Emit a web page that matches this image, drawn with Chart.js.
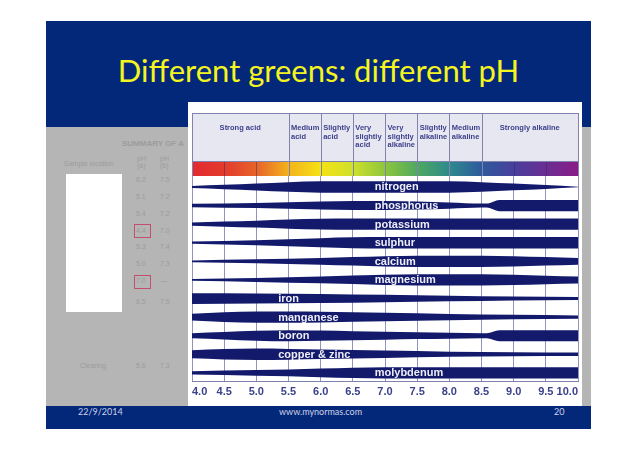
<!DOCTYPE html>
<html>
<head>
<meta charset="utf-8">
<script src="https://cdn.jsdelivr.net/npm/chart.js@4.4.0/dist/chart.umd.min.js"></script>
<style>
  html, body { margin: 0; padding: 0; background: #fff; }
  body { width: 638px; height: 451px; position: relative; overflow: hidden; font-family: 'Liberation Sans', Arial, sans-serif; }
  .abs { position: absolute; }
  #slide { left: 46px; top: 21px; width: 545px; height: 408px; background: #03287a; }
  #title { left: 46px; width: 545px; top: 52px; line-height: 36px; text-align: center; color: #f4f41e; font-family: Lato, sans-serif; font-size: 31px; white-space: nowrap; }
  #under { left: 46px; top: 127px; width: 545px; height: 279px; background: #b5b5b5; }
  #blank { left: 66px; top: 174px; width: 56px; height: 138px; background: #fff; }
  .faint { color: #9c9c9c; font-size: 7px; white-space: nowrap; }
  .redbox { border: 1px solid #c2506a; width: 15px; height: 12px; }
  #box { left: 188px; top: 102px; width: 394px; height: 304px; background: #fff; }
  .foot { top: 406px; color: #cdd2e6; font-family: Lato, sans-serif; font-size: 9px; line-height: 12px; white-space: nowrap; }
</style>
</head>
<body>
<div id="slide" class="abs"></div>
<div id="title" class="abs">Different greens: different pH</div>
<div id="under" class="abs"></div>
<div class="abs faint" style="left:122px;top:139px;font-weight:bold;font-size:8px;">SUMMARY OF A</div>
<div class="abs faint" style="left:64px;top:160px;">Sample location</div>
<div class="abs faint" style="left:137px;top:155px;">pH<br>(a)</div>
<div class="abs faint" style="left:160px;top:155px;">pH<br>(b)</div>
<div id="blank" class="abs"></div>
<div id="faintRows"></div>
<div class="abs redbox" style="left:134px;top:224px;"></div>
<div class="abs redbox" style="left:134px;top:275px;"></div>
<div class="abs faint" style="left:80px;top:362px;">Clearing</div>
<div id="box" class="abs"><canvas id="phChart" width="394" height="304"></canvas></div>
<div class="abs foot" style="left:78px;">22/9/2014</div>
<div class="abs foot" style="left:279px;">www.mynormas.com</div>
<div class="abs foot" style="left:554px;">20</div>
<script>
// pH scale and header zones
const PH_TICKS = ['4.0', '4.5', '5.0', '5.5', '6.0', '6.5', '7.0', '7.5', '8.0', '8.5', '9.0', '9.5', '10.0'];
const ZONE_NAMES = [['Strong acid'], ['Medium', 'acid'], ['Slightly', 'acid'], ['Very', 'slightly', 'acid'],
  ['Very', 'slightly', 'alkaline'], ['Slightly', 'alkaline'], ['Medium', 'alkaline'], ['Strongly alkaline']];
const ZONE_EDGES = [4.0, 5.5, 6.0, 6.5, 7.0, 7.5, 8.0, 8.5, 10.0];
const PH_COLORS = ['#e22b2f', '#e33a2c', '#e7632a', '#f3b21c', '#f6e214', '#cfe02c', '#8ec63c',
  '#4fa860', '#2e8a8c', '#2e5a9c', '#483f9c', '#6a2e94', '#8a1c86'];

const NUTRIENTS = ['nitrogen', 'phosphorus', 'potassium', 'sulphur', 'calcium', 'magnesium',
  'iron', 'manganese', 'boron', 'copper & zinc', 'molybdenum'];

// availability at pH (1 = widest band)
const nitrogen = [[4.0, 0.18], [4.5, 0.4], [5.0, 0.62], [5.5, 0.85], [6.0, 1], [8.0, 1], [8.5, 0.85], [9.0, 0.6], [9.5, 0.35], [10.0, 0.05]];
const phosphorus = [[4.0, 0.3], [5.0, 0.45], [6.0, 0.7], [6.5, 0.8], [7.0, 0.8], [7.5, 0.7], [8.0, 0.55], [8.5, 0.35], [8.58, 0.35], [8.78, 1], [10.0, 1]];
const potassium = [[4.0, 0.3], [4.5, 0.45], [5.0, 0.6], [5.5, 0.8], [6.0, 0.95], [6.5, 1], [10.0, 1]];
const sulphur = [[4.0, 0.2], [5.0, 0.45], [5.5, 0.6], [6.0, 0.8], [6.5, 0.95], [7.0, 1], [10.0, 1]];
const calcium = [[4.0, 0.15], [5.0, 0.35], [6.0, 0.6], [6.5, 0.75], [7.0, 0.9], [7.5, 1], [8.5, 1], [9.0, 0.9], [9.5, 0.75], [10.0, 0.6]];
const magnesium = [[4.0, 0.15], [5.0, 0.35], [6.0, 0.6], [7.0, 0.9], [7.5, 1], [8.5, 1], [9.0, 0.9], [9.5, 0.75], [10.0, 0.62]];
const iron = [[4.0, 0.95], [5.0, 0.9], [6.0, 0.8], [7.0, 0.65], [8.0, 0.5], [9.0, 0.35], [10.0, 0.25]];
const manganese = [[4.0, 0.6], [4.5, 0.85], [5.0, 1], [5.5, 1], [6.0, 0.95], [7.0, 0.75], [8.0, 0.55], [9.0, 0.4], [10.0, 0.28]];
const boron = [[4.0, 0.45], [4.5, 0.65], [5.0, 0.88], [5.5, 0.98], [6.0, 0.9], [6.5, 0.8], [7.0, 0.7], [7.5, 0.6], [8.0, 0.52], [8.5, 0.45], [8.58, 0.45], [8.78, 0.98], [10.0, 0.98]];
const copperZinc = [[4.0, 0.72], [4.5, 0.92], [5.0, 1], [5.5, 0.95], [6.0, 0.85], [7.0, 0.65], [8.0, 0.45], [9.0, 0.35], [10.0, 0.3]];
const molybdenum = [[4.0, 0.3], [5.0, 0.5], [5.5, 0.6], [6.0, 0.75], [6.5, 0.9], [7.0, 1], [10.0, 1]];
const BANDS = [nitrogen, phosphorus, potassium, sulphur, calcium, magnesium, iron, manganese, boron, copperZinc, molybdenum];

// faded table behind the chart
const faintA = ['6.2', '5.1', '5.4', '4.4', '5.3', '5.0', '7.0', '6.5', '5.6'];
const faintB = ['7.5', '7.2', '7.2', '7.0', '7.4', '7.3', '—', '7.5', '7.3'];
const faintY = [176, 193, 210, 227, 243, 260, 277, 298, 362];
let html = '';
faintY.forEach(function(y, i) {
    html += '<div class="abs faint" style="left:136px;top:' + y + 'px;">' + faintA[i] + '</div>';
    html += '<div class="abs faint" style="left:160px;top:' + y + 'px;">' + faintB[i] + '</div>';
});
document.getElementById('faintRows').innerHTML = html;

const BAND_COLOR = '#131a6c';
const HALF = 0.305;

const datasets = [];
BANDS.forEach(function(pts, i) {
    datasets.push({
        data: pts.map(p => ({x: p[0], y: i - p[1] * HALF})),
        borderWidth: 0, borderColor: 'transparent', fill: false
    });
    datasets.push({
        data: pts.map(p => ({x: p[0], y: i + p[1] * HALF})),
        borderWidth: 0, borderColor: 'transparent', backgroundColor: BAND_COLOR, fill: '-1'
    });
});

const headerPlugin = {
    id: 'phHeader',
    beforeDraw(chart) {
        const ctx = chart.ctx, x = chart.scales.x, area = chart.chartArea;
        const top = 11, bottom = area.top, barTop = bottom - 14;
        const left = x.getPixelForValue(4), right = x.getPixelForValue(10);
        ctx.save();
        ctx.fillStyle = '#e7e7f1';
        ctx.fillRect(left, top, right - left, barTop - top);
        const g = ctx.createLinearGradient(left, 0, right, 0);
        PH_COLORS.forEach((c, i) => g.addColorStop(i / (PH_COLORS.length - 1), c));
        ctx.fillStyle = g;
        ctx.fillRect(left, barTop, right - left, bottom - barTop);
        ctx.lineWidth = 1;
        ctx.strokeStyle = 'rgba(50,40,90,0.45)';
        PH_TICKS.forEach(function(t) {
            const px = Math.round(x.getPixelForValue(parseFloat(t))) + 0.5;
            ctx.beginPath(); ctx.moveTo(px, barTop); ctx.lineTo(px, bottom); ctx.stroke();
        });
        ctx.strokeStyle = '#7f83ad';
        ZONE_EDGES.forEach(function(e) {
            const px = Math.round(x.getPixelForValue(e)) + 0.5;
            ctx.beginPath(); ctx.moveTo(px, top); ctx.lineTo(px, bottom); ctx.stroke();
        });
        ctx.beginPath(); ctx.moveTo(left, top + 0.5); ctx.lineTo(right, top + 0.5); ctx.stroke();
        ctx.beginPath(); ctx.moveTo(left, barTop - 0.5); ctx.lineTo(right, barTop - 0.5); ctx.stroke();
        ctx.fillStyle = '#3d418c';
        ctx.font = 'bold 7.5px "Liberation Sans", Arial';
        ctx.textBaseline = 'middle';
        ZONE_NAMES.forEach(function(lines, i) {
            const x0 = x.getPixelForValue(ZONE_EDGES[i]), x1 = x.getPixelForValue(ZONE_EDGES[i + 1]);
            if (lines.length === 1) {
                ctx.textAlign = 'center';
                ctx.fillText(lines[0], (x0 + x1) / 2, 26);
            } else {
                ctx.textAlign = 'left';
                lines.forEach((s, j) => ctx.fillText(s, x0 + 2.5, 26 + j * 8.6));
            }
        });
        ctx.restore();
    },
    afterDatasetsDraw(chart) {
        const ctx = chart.ctx, x = chart.scales.x, y = chart.scales.y;
        ctx.save();
        ctx.fillStyle = '#eeeef8';
        ctx.font = 'bold 11px "Liberation Sans", Arial';
        ctx.textBaseline = 'middle';
        ctx.textAlign = 'left';
        NUTRIENTS.forEach(function(n, i) {
            const at = (i >= 6 && i <= 9) ? 5.34 : 6.84;
            ctx.fillText(n, x.getPixelForValue(at), y.getPixelForValue(i) + 0.5);
        });
        ctx.restore();
    }
};

new Chart(document.getElementById('phChart').getContext('2d'), {
    type: 'line',
    data: { datasets: datasets },
    options: {
        responsive: false,
        animation: false,
        layout: { padding: { top: 74, left: 2, right: 3, bottom: 3 } },
        plugins: { legend: { display: false }, tooltip: { enabled: false } },
        elements: {
            point: { radius: 0 },
            line: { cubicInterpolationMode: 'monotone' }
        },
        scales: {
            x: {
                type: 'linear', min: 4, max: 10,
                ticks: {
                    stepSize: 0.5, autoSkip: false, maxRotation: 0, align: 'inner', padding: 4,
                    color: '#3c418a',
                    font: { family: 'Liberation Sans', size: 11, weight: 'bold' },
                    callback: (v, i) => PH_TICKS[i]
                },
                grid: { color: '#9094bb', lineWidth: 1, drawTicks: false },
                border: { color: '#7d81ab', width: 1 }
            },
            y: { type: 'linear', display: false, reverse: true, min: -0.59, max: 10.48 }
        }
    },
    plugins: [headerPlugin]
});
</script>
</body>
</html>
